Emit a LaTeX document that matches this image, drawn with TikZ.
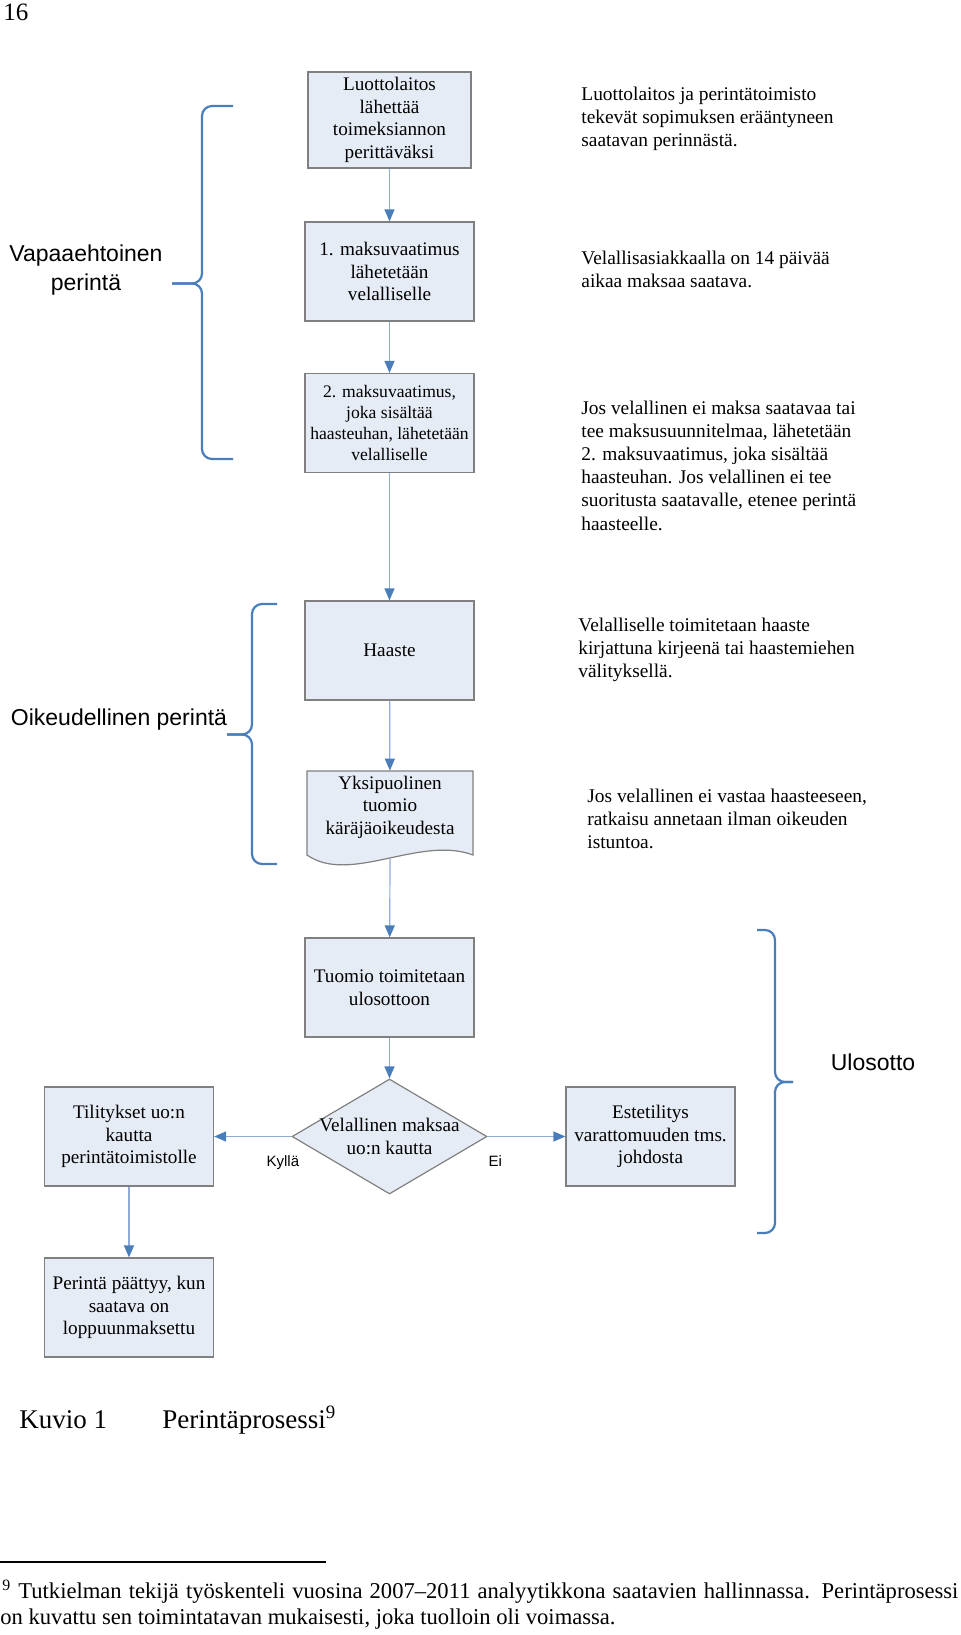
\documentclass[tikz,border=0pt]{standalone}
\usepackage{fontspec}
\setmainfont{Liberation Serif}
\newfontfamily\arialfont{Liberation Sans}
\usetikzlibrary{shapes.geometric,arrows.meta}
\definecolor{laatikko}{RGB}{230,236,246}
\definecolor{reuna}{RGB}{128,128,128}
\definecolor{nuolisin}{RGB}{74,126,187}
\definecolor{viiva}{RGB}{145,172,212}

\begin{document}
\begin{tikzpicture}[x=0.5pt, y=-0.5pt,
    vaihe/.style={draw=reuna, fill=laatikko, line width=0.6pt, minimum width=84.5pt, minimum height=49.5pt, inner sep=1pt, align=center, font=\fontsize{9.6}{11.25}\selectfont},
    selite/.style={anchor=west, inner sep=0pt, align=left, font=\fontsize{9.7}{11.6}\selectfont},
    ryhma/.style={inner sep=0pt, align=center, font=\arialfont\fontsize{11.5}{14.5}\selectfont},
    vastaus/.style={inner sep=0pt, font=\arialfont\fontsize{7.5}{9}\selectfont},
    nuoli/.style={draw=viiva, line width=0.6pt, -{Triangle[length=6pt, width=5pt, color=nuolisin]}},
    sulku/.style={draw=nuolisin, line width=1.1pt, rounded corners=5pt}]
        \useasboundingbox (0,0) rectangle (960,1635);

        % Sivunumero
        \node[inner sep=0pt, font=\fontsize{12.5}{15}\selectfont] (sivu) at (16,12) {16};

        % Vapaaehtoinen perintä: vaiheet ja selitykset
        \node[vaihe, minimum width=81.5pt, minimum height=48pt] (L1) at (389.5,120) {Luottolaitos\\lähettää\\toimeksiannon\\perittäväksi};
        \node[vaihe] (M1) at (389.5,271.5) {1. maksuvaatimus\\lähetetään\\velalliselle};
        \node[vaihe, font=\fontsize{8.8}{10.35}\selectfont] (N1) at (389.5,423) {2. maksuvaatimus,\\joka sisältää\\haasteuhan, lähetetään\\velalliselle};

        \node[selite] (L1s) at (581,119) {Luottolaitos ja perintätoimisto\\tekevät sopimuksen erääntyneen\\saatavan perinnästä.};
        \node[selite] (M1s) at (581,269.5) {Velallisasiakkaalla on 14 päivää\\aikaa maksaa saatava.};
        \node[selite] (N1s) at (581,465.5) {Jos velallinen ei maksa saatavaa tai\\tee maksusuunnitelmaa, lähetetään\\2. maksuvaatimus, joka sisältää\\haasteuhan. Jos velallinen ei tee\\suoritusta saatavalle, etenee perintä\\haasteelle.};

        % Oikeudellinen perintä
        \node[vaihe] (H2) at (389.5,650.5) {Haaste};
        \filldraw[draw=reuna, fill=laatikko, line width=0.6pt] (307,771) -- (473,771) -- (473,855) .. controls (420,835) and (350,885) .. (307,855) -- cycle;
        \node[inner sep=0pt, minimum width=83pt, minimum height=36pt, align=center, font=\fontsize{9.6}{11.25}\selectfont] (Y2) at (390,807) {Yksipuolinen\\tuomio\\käräjäoikeudesta};
        \coordinate (Y2b) at (390,859);

        \node[selite] (H2s) at (578,650) {Velalliselle toimitetaan haaste\\kirjattuna kirjeenä tai haastemiehen\\välityksellä.};
        \node[selite] (Y2s) at (587,819) {Jos velallinen ei vastaa haasteeseen,\\ratkaisu annetaan ilman oikeuden\\istuntoa.};

        % Ulosotto
        \node[vaihe] (T3) at (389.5,987.5) {Tuomio toimitetaan\\ulosottoon};
        \node[diamond, draw=reuna, fill=laatikko, line width=0.6pt, minimum width=97.5pt, minimum height=57.5pt, inner sep=0pt] (V3) at (389.5,1136.5) {};
        \node[inner sep=0pt, align=center, font=\fontsize{9.6}{11.25}\selectfont] (V3t) at (389.5,1136.5) {Velallinen maksaa\\uo:n kautta};
        \node[vaihe] (K3) at (129,1136.5) {Tilitykset uo:n\\kautta\\perintätoimistolle};
        \node[vaihe] (E3) at (650.5,1136.5) {Estetilitys\\varattomuuden tms.\\johdosta};
        \node[vaihe] (P3) at (129,1307.5) {Perintä päättyy, kun\\saatava on\\loppuunmaksettu};

        % Nuolet
        \draw[nuoli] (L1) -- (M1);
        \draw[nuoli] (M1) -- (N1);
        \draw[nuoli] (N1) -- (H2);
        \draw[nuoli] (H2) -- (Y2);
        \draw[nuoli] (Y2b) -- (T3);
        \draw[nuoli] (T3) -- (V3);
        \draw[nuoli] (V3) -- (K3) node[pos=0.11, below=9.5pt, vastaus] (kylla) {Kyllä};
        \draw[nuoli] (V3) -- (E3) node[pos=0.1, below=9.5pt, vastaus] (ei) {Ei};
        \draw[nuoli] (K3) -- (P3);

        % Aaltosulkeet ja vaiheiden nimet
        \coordinate (S1k) at (172,283.5);
        \coordinate (S1y) at (233,106);
        \coordinate (S1a) at (233,459);
        \draw[sulku] (S1k) -- ++(30,0) |- (S1y);
        \draw[sulku] (S1k) -- ++(30,0) |- (S1a);
        \coordinate (S2k) at (227,734.5);
        \coordinate (S2y) at (277,604);
        \coordinate (S2a) at (277,864);
        \draw[sulku] (S2k) -- ++(25,0) |- (S2y);
        \draw[sulku] (S2k) -- ++(25,0) |- (S2a);
        \coordinate (S3k) at (793,1082);
        \coordinate (S3y) at (757,930);
        \coordinate (S3a) at (757,1233);
        \draw[sulku] (S3k) -- ++(-18,0) |- (S3y);
        \draw[sulku] (S3k) -- ++(-18,0) |- (S3a);

        \node[ryhma] (vap) at (86,270.5) {Vapaaehtoinen\\perintä};
        \node[ryhma] (oik) at (119,720) {Oikeudellinen perintä};
        \node[ryhma] (ulo) at (873,1062) {Ulosotto};

        % Kuvateksti ja alaviite
        \node[anchor=west, inner sep=0pt, font=\fontsize{13.5}{16}\selectfont] (kuvio) at (19,1420) {Kuvio 1};
        \node[anchor=west, inner sep=0pt, font=\fontsize{13.5}{16}\selectfont] (otsikko) at (162,1420) {Perintäprosessi\textsuperscript{9}};
        \draw[line width=0.7pt] (0,1562) -- (326,1562);
        \node[anchor=west, inner sep=0pt, font=\fontsize{11.3}{13}\selectfont] (alav1) at (2,1592) {\makebox[478pt][s]{\textsuperscript{9} Tutkielman tekijä työskenteli vuosina 2007–2011 analyytikkona saatavien hallinnassa. Perintäprosessi}};
        \node[anchor=west, inner sep=0pt, font=\fontsize{11.3}{13}\selectfont] (alav2) at (0,1619) {on kuvattu sen toimintatavan mukaisesti, joka tuolloin oli voimassa.};

    \end{tikzpicture}
\end{document}
